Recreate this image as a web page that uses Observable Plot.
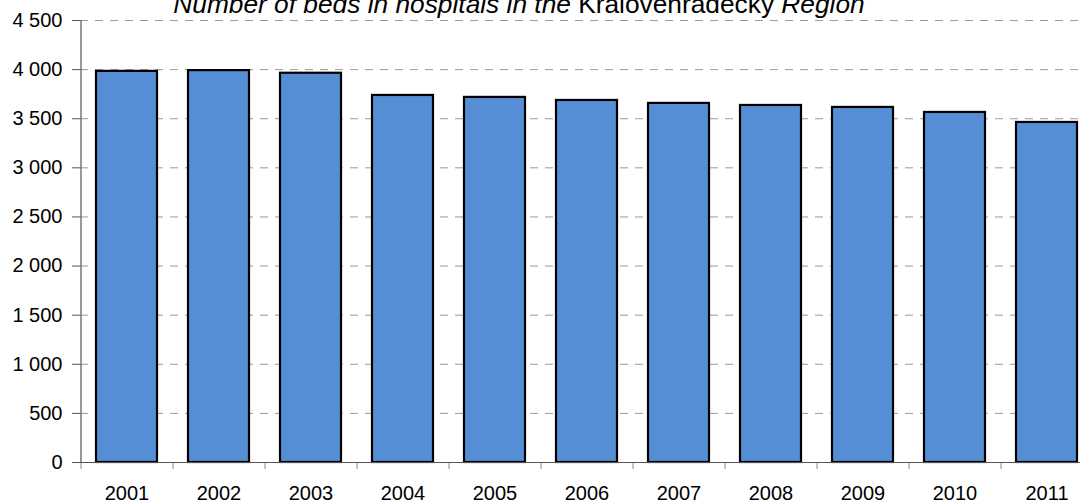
<!DOCTYPE html>
<html>
<head>
<meta charset="utf-8">
<script src="https://cdn.jsdelivr.net/npm/d3@7"></script>
<script src="https://cdn.jsdelivr.net/npm/@observablehq/plot@0.6"></script>
<style>
  html, body { margin: 0; padding: 0; background: #fff; overflow: hidden; }
  svg { display: block; }
</style>
</head>
<body>
<div id="chart"></div>
<script>
const years = ["2001","2002","2003","2004","2005","2006","2007","2008","2009","2010","2011"];
const beds  = [3982, 3990, 3963, 3737, 3717, 3686, 3656, 3635, 3615, 3564, 3462];
const yTicks = [0, 500, 1000, 1500, 2000, 2500, 3000, 3500, 4000, 4500];
const titleParts = [
  {text: "Number of beds in hospitals in the ", italic: true},
  {text: "Královéhradecký", italic: false},
  {text: " Region", italic: true}
];

const data = years.map((y, i) => ({year: y, beds: beds[i]}));

const W = 1080, H = 504, mL = 80, mR = -12, mT = 20, mB = 42;
const step = (W - mL - mR) / years.length;
const fmt = d => d3.format(",")(d).replace(/,/g, " ");
const font = "'Liberation Sans', Arial, sans-serif";

const chart = Plot.plot({
  width: W,
  height: H,
  marginLeft: mL,
  marginRight: mR,
  marginTop: mT,
  marginBottom: mB,
  style: {fontFamily: font, fontSize: "20px", color: "#000", background: "#fff"},
  x: {domain: years, paddingInner: 0.34, paddingOuter: 0.17, axis: null, label: null},
  y: {domain: [0, 4500], axis: null, label: null},
  marks: [
    Plot.gridY(yTicks, {stroke: "#999", strokeOpacity: 1, strokeWidth: 1, strokeDasharray: "8,7"}),
    Plot.barY(data, {x: "year", y: "beds", fill: "#558ED5", stroke: "#000", strokeWidth: 2.2}),
    Plot.axisY(yTicks, {tickSize: 8, tickPadding: 10, tickFormat: fmt, stroke: "#555", fontSize: 20, fill: "#000", label: null}),
    Plot.axisX(years, {tickSize: 7, dx: -step / 2, text: null, stroke: "#888", label: null}),
    Plot.axisX(years, {tickSize: 0, tickPadding: 23, fontSize: 20, fill: "#000", label: null}),
    Plot.ruleY([0], {stroke: "#555", strokeWidth: 1.2}),
    Plot.ruleX([years[0]], {dx: -step / 2, stroke: "#555", strokeWidth: 1.2, y1: 0, y2: 4500})
  ]
});

document.getElementById("chart").appendChild(chart);

// Title (mixed italic / upright), partly clipped at top as in the reference
const svg = d3.select(chart);
const t = svg.append("text")
  .attr("x", 519)
  .attr("y", 13)
  .attr("text-anchor", "middle")
  .style("font-family", font)
  .style("font-size", "26.3px")
  .attr("fill", "#000");
titleParts.forEach(p => {
  t.append("tspan").attr("font-style", p.italic ? "italic" : "normal").text(p.text);
});
</script>
</body>
</html>
